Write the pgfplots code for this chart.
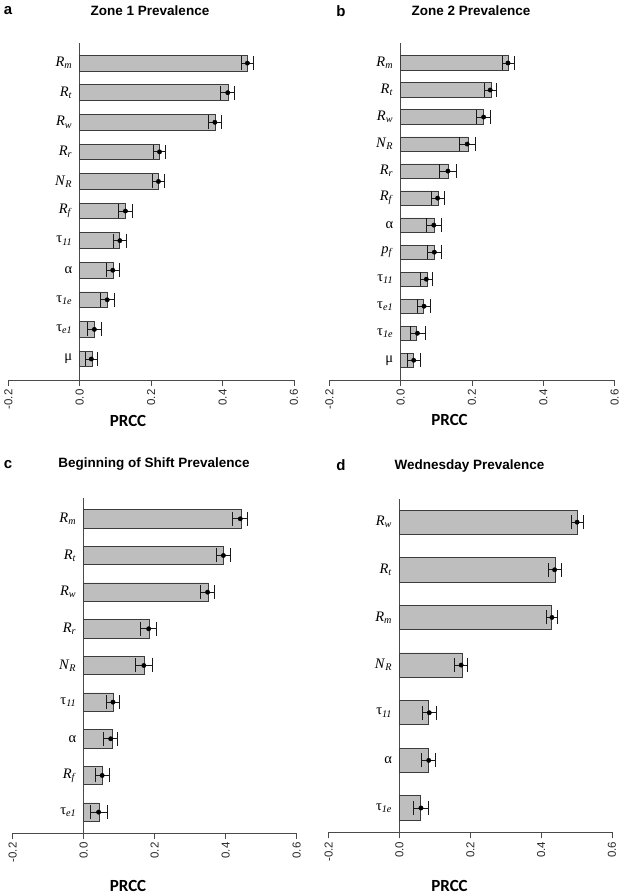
\documentclass[border=0pt]{standalone}
\usepackage{pgfplots}
\pgfplotsset{compat=1.18}
\usepackage{fontspec}
\setmainfont{Liberation Serif}
\setsansfont{Liberation Sans}
\newfontfamily\calibri{Carlito}

\definecolor{barfill}{HTML}{BEBEBE}
\definecolor{bardraw}{HTML}{3C3C3C}
\definecolor{axisgray}{HTML}{4A4A4A}

% parameter names
\newcommand{\Rs}[1]{\textit{R}\textsubscript{\textit{#1}}}
\newcommand{\NR}{\textit{N}\textsubscript{\textit{R}}}
\newcommand{\tauS}[1]{τ\textsubscript{\textit{#1}}}
\newcommand{\pf}{\textit{p}\textsubscript{\textit{f}}}

\pgfplotsset{
  prcc/.style={
    scale only axis,
    anchor=south west,
    xmin=-0.2, xmax=0.6,
    xtick={-0.2,0,0.2,0.4,0.6},
    xticklabels={-0.2,0.0,0.2,0.4,0.6},
    axis x line*=bottom,
    axis y line*=center,
    axis line style={axisgray, line width=0.9pt},
    xtick align=outside,
    major tick length=6pt,
    xtick style={axisgray, line width=0.9pt},
    ytick style={draw=none},
    xticklabel style={rotate=90, anchor=east, font=\sffamily\fontsize{11.5}{12}\selectfont, text=black!85},
    yticklabel style={font=\fontsize{14.5}{16}\selectfont, text=black, xshift=-4pt},
    clip=false,
  },
  bars/.style={xbar, fill=barfill, draw=bardraw, line width=0.8pt},
  errs/.style={only marks, mark=*, mark size=2.2pt, black,
    error bars/.cd, x dir=both, x explicit, error mark=|,
    error bar style={black!90, line width=0.8pt},
    error mark options={black!90, line width=0.8pt, mark size=7pt}},
}

\tikzset{
  ttl/.style={font=\sffamily\bfseries\fontsize{13.5}{15}\selectfont},
  lett/.style={font=\sffamily\bfseries\fontsize{15}{16}\selectfont},
  xlab/.style={font=\calibri\bfseries\fontsize{17}{18}\selectfont},
}

\begin{document}
\begin{tikzpicture}
\path[use as bounding box] (0,0) rectangle (625pt,895pt);

% ---- a: Zone 1
\begin{axis}[prcc, at={(8.3pt,515pt)}, width=285.7pt, height=337pt,
  ymin=0.29, ymax=11.68, ytick={1,...,11},
  yticklabels={μ,\tauS{e1},\tauS{1e},α,\tauS{11},\Rs{f},\NR,\Rs{r},\Rs{w},\Rs{t},\Rs{m}}]
\addplot[bars, bar width=0.53] coordinates {
  (0.036,1) (0.041,2) (0.077,3) (0.094,4) (0.110,5) (0.128,6)
  (0.219,7) (0.224,8) (0.381,9) (0.416,10) (0.469,11)};
\addplot[errs] coordinates {
  (0.0325,1) +- (0.0175,0)
  (0.041,2) +- (0.019,0)
  (0.077,3) +- (0.020,0)
  (0.0925,4) +- (0.0185,0)
  (0.1125,5) +- (0.0185,0)
  (0.128,6) +- (0.019,0)
  (0.2205,7) +- (0.0165,0)
  (0.2235,8) +- (0.0165,0)
  (0.3785,9) +- (0.0175,0)
  (0.4145,10) +- (0.0195,0)
  (0.4695,11) +- (0.0155,0)};
\end{axis}

% ---- b: Zone 2
\begin{axis}[prcc, at={(329.3pt,515pt)}, width=285.4pt, height=337pt,
  ymin=0.27, ymax=12.74, ytick={1,...,12},
  yticklabels={μ,\tauS{1e},\tauS{e1},\tauS{11},\pf,α,\Rs{f},\Rs{r},\NR,\Rs{w},\Rs{t},\Rs{m}}]
\addplot[bars, bar width=0.53] coordinates {
  (0.037,1) (0.044,2) (0.064,3) (0.074,4) (0.095,5) (0.096,6)
  (0.105,7) (0.135,8) (0.189,9) (0.233,10) (0.253,11) (0.302,12)};
\addplot[errs] coordinates {
  (0.0365,1) +- (0.0175,0)
  (0.047,2) +- (0.021,0)
  (0.0655,3) +- (0.0185,0)
  (0.072,4) +- (0.018,0)
  (0.0945,5) +- (0.0195,0)
  (0.093,6) +- (0.020,0)
  (0.1035,7) +- (0.0185,0)
  (0.1325,8) +- (0.0225,0)
  (0.1865,9) +- (0.0225,0)
  (0.2325,10) +- (0.0195,0)
  (0.251,11) +- (0.017,0)
  (0.301,12) +- (0.017,0)};
\end{axis}

% ---- c: Beginning of shift
\begin{axis}[prcc, at={(12.7pt,62pt)}, width=284pt, height=334.7pt,
  ymin=0.43, ymax=9.56, ytick={1,...,9},
  yticklabels={\tauS{e1},\Rs{f},α,\tauS{11},\NR,\Rs{r},\Rs{w},\Rs{t},\Rs{m}}]
\addplot[bars, bar width=0.5] coordinates {
  (0.044,1) (0.052,2) (0.080,3) (0.085,4) (0.170,5) (0.185,6)
  (0.350,7) (0.393,8) (0.444,9)};
\addplot[errs] coordinates {
  (0.042,1) +- (0.024,0)
  (0.052,2) +- (0.020,0)
  (0.076,3) +- (0.020,0)
  (0.0825,4) +- (0.0185,0)
  (0.1695,5) +- (0.0245,0)
  (0.183,6) +- (0.022,0)
  (0.349,7) +- (0.019,0)
  (0.3935,8) +- (0.0185,0)
  (0.441,9) +- (0.021,0)};
\end{axis}

% ---- d: Wednesday
\begin{axis}[prcc, at={(328.7pt,62.7pt)}, width=283.3pt, height=333pt,
  ymin=0.49, ymax=7.48, ytick={1,...,7},
  yticklabels={\tauS{1e},α,\tauS{11},\NR,\Rs{m},\Rs{t},\Rs{w}}]
\addplot[bars, bar width=0.51] coordinates {
  (0.060,1) (0.082,2) (0.082,3) (0.177,4) (0.428,5) (0.439,6) (0.501,7)};
\addplot[errs] coordinates {
  (0.0605,1) +- (0.0215,0)
  (0.0825,2) +- (0.0195,0)
  (0.084,3) +- (0.020,0)
  (0.174,4) +- (0.019,0)
  (0.4305,5) +- (0.0165,0)
  (0.438,6) +- (0.018,0)
  (0.5015,7) +- (0.0165,0)};
\end{axis}

% titles, panel letters, axis labels
\node[lett] at (8pt,884pt) {a};
\node[ttl] at (150pt,884pt) {Zone 1 Prevalence};
\node[lett] at (341pt,884pt) {b};
\node[ttl] at (471pt,884pt) {Zone 2 Prevalence};
\node[lett] at (8pt,430pt) {c};
\node[ttl] at (154pt,431pt) {Beginning of Shift Prevalence};
\node[lett] at (341pt,430pt) {d};
\node[ttl] at (469.5pt,429pt) {Wednesday Prevalence};

\node[xlab] at (128pt,474pt) {PRCC};
\node[xlab] at (449.5pt,475pt) {PRCC};
\node[xlab] at (128pt,9pt) {PRCC};
\node[xlab] at (449.5pt,9pt) {PRCC};
\end{tikzpicture}
\end{document}
